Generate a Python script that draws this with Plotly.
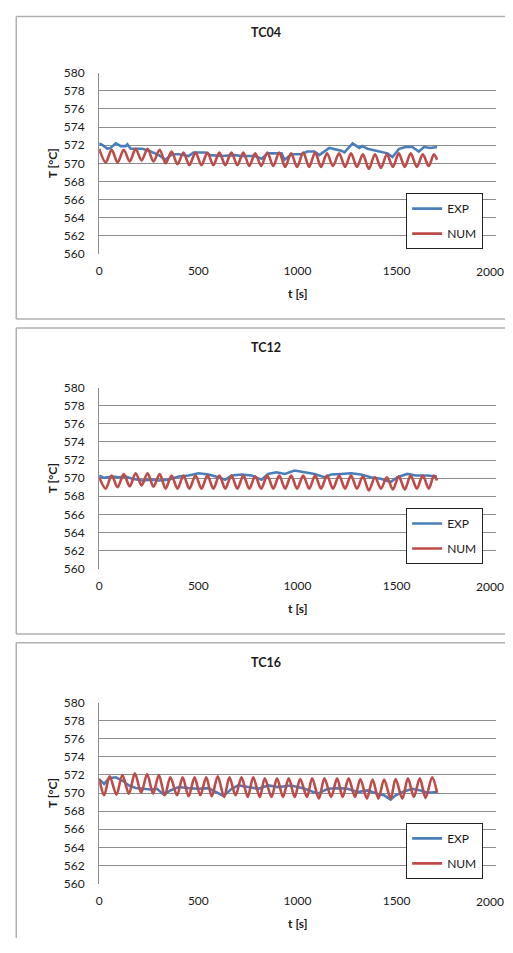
import plotly.graph_objects as go

# ---------------- data ----------------
titles = ["TC04", "TC12", "TC16"]
x_ticks = [0, 500, 1000, 1500, 2000]
y_ticks = [560, 562, 564, 566, 568, 570, 572, 574, 576, 578, 580]

t_exp_tc04 = [0, 17, 42, 58, 84, 109, 134, 142, 159, 217, 251, 301, 334, 368, 401, 451, 476, 535, 560, 618,
              685, 718, 785, 820, 850, 920, 935, 970, 1020, 1050, 1086, 1110, 1161, 1220, 1237, 1278, 1312,
              1328, 1353, 1420, 1454, 1479, 1512, 1546, 1579, 1612, 1638, 1671, 1704]
exp_tc04 = [572.2, 572.0, 571.6, 571.7, 572.2, 571.9, 571.9, 572.1, 571.6, 571.6, 571.4, 570.9, 570.4, 571.0,
            571.0, 570.8, 571.2, 571.2, 570.9, 570.8, 570.9, 570.8, 570.8, 570.5, 571.1, 571.1, 570.4, 571.0,
            571.0, 571.3, 571.3, 570.9, 571.7, 571.4, 571.2, 572.2, 571.7, 571.9, 571.6, 571.3, 571.1, 570.7,
            571.6, 571.8, 571.8, 571.3, 571.8, 571.7, 571.8]

t_num_tc04 = [0, 33, 63, 93, 124, 154, 184, 214, 244, 274, 305, 335, 365, 395, 425, 455, 486, 516, 546, 576,
              606, 636, 667, 697, 727, 757, 787, 817, 848, 878, 908, 938, 968, 998, 1029, 1059, 1089, 1119,
              1149, 1179, 1210, 1240, 1270, 1300, 1330, 1360, 1391, 1421, 1451, 1481, 1511, 1541, 1571, 1602,
              1632, 1662, 1688, 1704]
num_tc04 = [571.6, 570.1, 571.5, 570.1, 571.5, 570.2, 571.6, 570.3, 571.6, 570.2, 571.5, 570.0, 571.3, 569.9,
            571.2, 569.8, 571.2, 569.8, 571.2, 569.8, 571.2, 569.8, 571.2, 569.8, 571.2, 569.7, 571.1, 569.7,
            571.2, 569.7, 571.2, 569.6, 571.1, 569.6, 571.2, 569.6, 571.2, 569.6, 571.1, 569.7, 571.1, 569.6,
            571.1, 569.6, 571.0, 569.4, 571.0, 569.5, 571.0, 569.6, 571.1, 569.6, 571.1, 569.6, 571.0, 569.7,
            571.0, 570.4]

t_exp_tc12 = [0, 25, 67, 100, 134, 167, 217, 267, 301, 351, 401, 451, 501, 551, 602, 635, 668, 719, 769, 819,
              852, 894, 936, 986, 1036, 1086, 1136, 1170, 1220, 1270, 1320, 1370, 1420, 1470, 1504, 1554, 1596,
              1654, 1704]
exp_tc12 = [570.29, 570.04, 570.18, 570.11, 570.18, 569.93, 569.75, 569.82, 569.75, 569.82, 570.18, 570.29,
            570.55, 570.40, 570.11, 569.82, 570.29, 570.40, 570.29, 569.82, 570.47, 570.66, 570.47, 570.84,
            570.66, 570.47, 570.11, 570.40, 570.47, 570.55, 570.40, 570.11, 569.93, 569.57, 570.11, 570.47,
            570.29, 570.29, 570.18]

t_num_tc12 = [0, 33, 63, 93, 124, 154, 184, 214, 244, 274, 305, 335, 365, 395, 425, 455, 486, 516, 546, 576,
              606, 636, 667, 697, 727, 757, 787, 817, 848, 878, 908, 938, 968, 998, 1029, 1059, 1089, 1119,
              1149, 1179, 1210, 1240, 1270, 1300, 1330, 1360, 1391, 1421, 1451, 1481, 1511, 1541, 1571, 1602,
              1632, 1662, 1688, 1704]
num_tc12 = [570.1, 568.85, 570.3, 569.0, 570.45, 569.1, 570.55, 569.2, 570.55, 569.05, 570.45, 568.85, 570.3,
            568.85, 570.3, 568.85, 570.3, 568.85, 570.3, 568.85, 570.3, 568.85, 570.3, 568.85, 570.3, 568.85,
            570.2, 568.85, 570.3, 568.85, 570.3, 568.85, 570.3, 568.85, 570.3, 568.85, 570.3, 568.85, 570.3,
            568.85, 570.3, 568.85, 570.3, 568.85, 570.2, 568.65, 570.1, 568.85, 570.1, 568.75, 570.2, 568.75,
            570.3, 568.85, 570.3, 568.85, 570.3, 569.75]

t_exp_tc16 = [0, 25, 50, 84, 117, 150, 184, 217, 259, 292, 326, 359, 401, 451, 501, 551, 593, 627, 668, 702,
              752, 802, 852, 902, 969, 1036, 1103, 1153, 1203, 1253, 1303, 1353, 1404, 1437, 1470, 1495, 1537,
              1579, 1621, 1654, 1704]
exp_tc16 = [571.5, 571.02, 571.63, 571.74, 571.38, 570.84, 570.55, 570.47, 570.40, 570.47, 569.82, 570.29,
            570.66, 570.55, 570.47, 570.55, 570.11, 569.68, 570.47, 570.84, 570.66, 570.47, 570.84, 570.66,
            570.84, 570.47, 569.93, 570.47, 570.55, 570.47, 570.11, 570.29, 569.93, 569.75, 569.28, 569.75,
            570.18, 570.47, 570.29, 570.04, 570.11]

t_num_tc16 = [0, 25, 53, 87, 117, 150, 180, 212, 242, 272, 301, 331, 359, 393, 421, 451, 481, 510, 540, 568,
              598, 630, 657, 688, 718, 749, 777, 810, 835, 869, 897, 927, 956, 986, 1014, 1048, 1074, 1108,
              1136, 1170, 1200, 1228, 1258, 1290, 1317, 1350, 1379, 1408, 1437, 1470, 1495, 1529, 1557, 1587,
              1617, 1646, 1679, 1704]
num_tc16 = [571.6, 569.75, 571.85, 569.82, 572.0, 569.93, 572.18, 570.04, 572.1, 569.93, 572.0, 569.75, 571.74,
            569.75, 571.74, 569.64, 571.74, 569.75, 571.74, 569.64, 571.85, 569.57, 571.74, 569.75, 571.74,
            569.57, 571.74, 569.57, 571.63, 569.57, 571.63, 569.57, 571.63, 569.57, 571.56, 569.57, 571.63,
            569.39, 571.63, 569.57, 571.63, 569.57, 571.63, 569.57, 571.56, 569.39, 571.49, 569.39, 571.49,
            569.39, 571.56, 569.39, 571.63, 569.57, 571.63, 569.46, 571.74, 570.04]

series = [
    (t_exp_tc04, exp_tc04, t_num_tc04, num_tc04),
    (t_exp_tc12, exp_tc12, t_num_tc12, num_tc12),
    (t_exp_tc16, exp_tc16, t_num_tc16, num_tc16),
]

# ---------------- styling / layout ----------------
# The page keeps the browser's default 8 px body margin, so the figure is sized
# to fill the 513x953 window exactly; positions below are window pixels.
PAGE_PAD = 8
W, H = 513 - 2 * PAGE_PAD, 953 - 2 * PAGE_PAD
FONT = "Lato"
TXT = "#1a1a1a"
BLUE = "#4A7EBB"
RED = "#BE4B48"
GRID = "#8c8c8c"
BORDER = "#b0b0b0"
PANEL_STEP = 320


def fx(ref_px):          # window x -> figure paper fraction
    return (ref_px - PAGE_PAD) / W


def fy(ref_px):          # window y -> figure paper fraction
    return 1 - (ref_px - PAGE_PAD) / H


PLOT_TOP, PLOT_BOT = 65.7, 249.7
PLOT_L, PLOT_R = 96.7, 495.7


def pline(x0, y0, x1, y1):
    return dict(type="line", xref="paper", yref="paper", x0=x0, y0=y0, x1=x1, y1=y1,
                line=dict(color=BORDER, width=1.5), layer="below")


fig = go.Figure()
layout = dict(
    width=W, height=H, margin=dict(l=0, r=0, t=0, b=0),
    paper_bgcolor="white", plot_bgcolor="white",
    font=dict(family=FONT, size=12, color=TXT),
    shapes=[], annotations=[],
)

for i, (te, ve, tn, vn) in enumerate(series):
    k = "" if i == 0 else str(i + 1)
    off = i * PANEL_STEP
    leg = "legend" + k
    fig.add_trace(go.Scatter(x=te, y=ve, mode="lines", name="EXP",
                             line=dict(color=BLUE, width=2.6),
                             xaxis="x" + k, yaxis="y" + k, legend=leg, legendgroup="e" + k))
    fig.add_trace(go.Scatter(x=tn, y=vn, mode="lines", name="NUM",
                             line=dict(color=RED, width=2.6, shape="spline", smoothing=0.9),
                             xaxis="x" + k, yaxis="y" + k, legend=leg, legendgroup="n" + k))

    # the last tick label would stick out of the page, so it is drawn as a
    # right-aligned text label at the paper edge instead
    layout["xaxis" + k] = dict(
        domain=[fx(PLOT_L), fx(PLOT_R)], anchor="y" + k, range=[0, 2000],
        tickvals=x_ticks[:-1], ticktext=[str(v) for v in x_ticks[:-1]],
        showgrid=False, zeroline=False, showline=False, ticks="",
        ticklabelstandoff=8, tickfont=dict(family=FONT, size=12, color=TXT), fixedrange=True,
    )
    layout["annotations"].append(dict(text=str(x_ticks[-1]), xref="paper", yref="paper",
                                      x=1.0, y=fy(268 + off), xanchor="right", yanchor="middle",
                                      showarrow=False, borderpad=0,
                                      font=dict(family=FONT, size=12, color=TXT)))
    layout["yaxis" + k] = dict(
        domain=[fy(PLOT_BOT + off), fy(PLOT_TOP + off)], anchor="x" + k, range=[560, 580],
        tickvals=y_ticks, ticktext=[str(v) for v in y_ticks],
        showgrid=True, gridcolor=GRID, gridwidth=1, zeroline=False,
        showline=True, linecolor=GRID, linewidth=1, ticks="",
        ticklabelstandoff=11, tickfont=dict(family=FONT, size=12, color=TXT), fixedrange=True,
    )
    layout[leg] = dict(
        x=fx(483), xanchor="right", y=fy(188 + off), yanchor="top",
        bordercolor="#222", borderwidth=1, bgcolor="white",
        font=dict(family=FONT, size=12, color=TXT),
        traceorder="grouped", tracegroupgap=6, itemwidth=30,
    )
    # chart border (right edge is outside the picture)
    bx0 = fx(13.3)
    ytop = min(fy(5 + off), 0.9995)
    ybot = max(fy(316 + off), 0.0)
    layout["shapes"].append(pline(bx0, ytop, 1.0, ytop))
    layout["shapes"].append(pline(bx0, ytop, bx0, ybot))
    if ybot > 0:
        layout["shapes"].append(pline(bx0, ybot, 1.0, ybot))
    # title
    layout["annotations"].append(dict(text="<b>" + titles[i] + "</b>", xref="paper", yref="paper",
                                      x=fx(265), y=fy(25 + off), xanchor="center", yanchor="middle",
                                      showarrow=False, font=dict(family=FONT, size=12.5, color=TXT)))
    # axis titles
    layout["annotations"].append(dict(text="<b>t [s]</b>", xref="paper", yref="paper",
                                      x=fx((PLOT_L + PLOT_R) / 2), y=fy(290 + off),
                                      xanchor="center", yanchor="middle",
                                      showarrow=False, font=dict(family=FONT, size=12, color=TXT)))
    layout["annotations"].append(dict(text="<b>T [°C]</b>", xref="paper", yref="paper",
                                      x=fx(50), y=fy(158 + off), xanchor="center", yanchor="middle",
                                      textangle=-90,
                                      showarrow=False, font=dict(family=FONT, size=12, color=TXT)))

fig.update_layout(**layout)
fig.write_html("out.html", config={"displayModeBar": False})
